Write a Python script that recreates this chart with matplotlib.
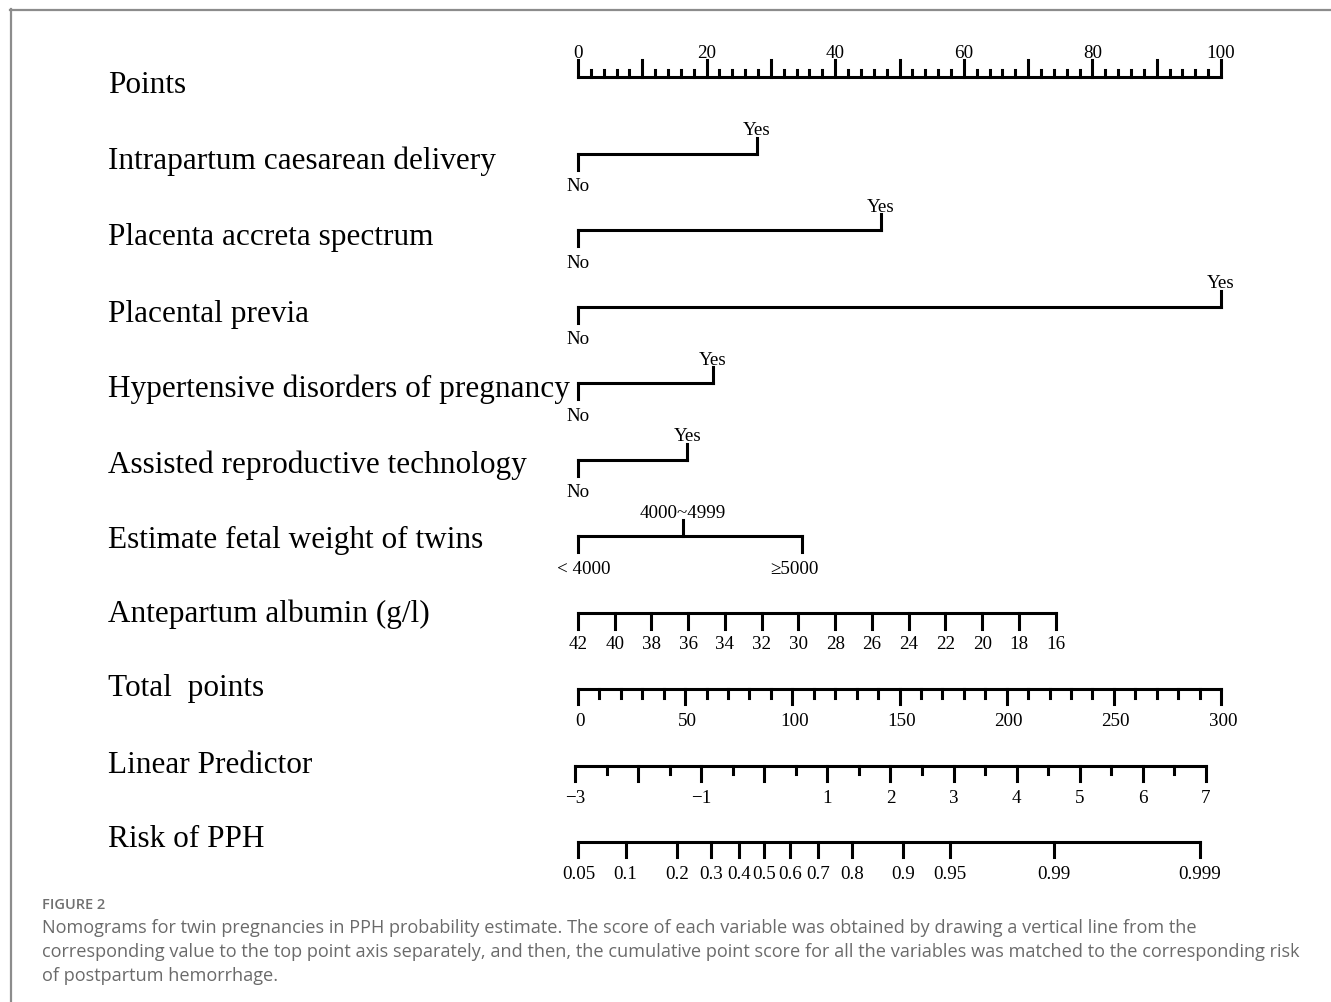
import numpy as np
import matplotlib
matplotlib.use("Agg")
import matplotlib.pyplot as plt
import matplotlib.transforms as mtransforms
from matplotlib.lines import Line2D

# ---------------- data ----------------
row_names = ["Points", "Intrapartum caesarean delivery", "Placenta accreta spectrum",
             "Placental previa", "Hypertensive disorders of pregnancy",
             "Assisted reproductive technology", "Estimate fetal weight of twins",
             "Antepartum albumin (g/l)", "Total  points", "Linear Predictor", "Risk of PPH"]

points_ticks = list(range(0, 101, 2))
points_labels = [0, 20, 40, 60, 80, 100]

ic_levels = ["No", "Yes"];               ic_points = [0, 27.8]
pas_levels = ["No", "Yes"];              pas_points = [0, 47.1]
pp_levels = ["No", "Yes"];               pp_points = [0, 100.0]
hdp_levels = ["No", "Yes"];              hdp_points = [0, 21.0]
art_levels = ["No", "Yes"];              art_points = [0, 17.0]
efw_levels = ["\uff1c4000", "4000~4999", "\u22655000"]; efw_points = [0, 16.3, 34.8]

albumin_values = [42, 40, 38, 36, 34, 32, 30, 28, 26, 24, 22, 20, 18, 16]
albumin_points_at_16 = 74.3

total_ticks = list(range(0, 301, 10))
total_labels = [0, 50, 100, 150, 200, 250, 300]

lp_ticks = [x / 2 for x in range(-6, 15)]
lp_labels = [-3, -1, 1, 2, 3, 4, 5, 6, 7]
lp_at_zero_total = -2.952     # linear predictor at total points = 0
total_per_lp = 29.44

risk_ticks = [0.05, 0.1, 0.2, 0.3, 0.4, 0.5, 0.6, 0.7, 0.8, 0.9, 0.95, 0.99, 0.999]

caption_title = "FIGURE 2"
caption_lines = [
    "Nomograms for twin pregnancies in PPH probability estimate. The score of each variable was obtained by drawing a vertical line from the",
    "corresponding value to the top point axis separately, and then, the cumulative point score for all the variables was matched to the corresponding risk",
    "of postpartum hemorrhage.",
]

# ---------------- scales ----------------
def alb_to_pts(v):
    return (42 - np.asarray(v, float)) * albumin_points_at_16 / 26.0

def total_to_pts(t):
    return np.asarray(t, float) / 3.0

def lp_to_pts(lp):
    return total_to_pts((np.asarray(lp, float) - lp_at_zero_total) * total_per_lp)

def risk_to_pts(p):
    p = np.asarray(p, float)
    return lp_to_pts(np.log(p / (1 - p)))

# ---------------- figure ----------------
W, H = 1331, 1003
fig = plt.figure(figsize=(W / 100, H / 100), dpi=100)
fig.patch.set_facecolor("white")

x0_px, x1_px = 578, 1221
row0_px, row_step = 78, 76.5
top_px = row0_px - 0.5 * row_step
bot_px = row0_px + 10.5 * row_step
ax = fig.add_axes([x0_px / W, 1 - bot_px / H, (x1_px - x0_px) / W, (bot_px - top_px) / H])
ax.set_xlim(0, 100)
ax.set_ylim(10.5, -0.5)
ax.axis("off")

PX = 1.0 / row_step                 # one pixel in row units
PXX = 100.0 / (x1_px - x0_px)       # one pixel in points units
LW = 2.2
serif = ["Liberation Serif", "DejaVu Serif"]
TFS = 13.7

def hline(y, xa, xb):
    ax.plot([xa, xb], [y, y], color="black", lw=LW, solid_capstyle="projecting", clip_on=False)

def tick(y, x, length_px, up):
    d = -length_px * PX if up else length_px * PX
    ax.plot([x, x], [y, y + d], color="black", lw=LW, solid_capstyle="projecting", clip_on=False)

def label(x, y, s, up, gap_px, dx_px=0.0):
    if up:
        ax.text(x + dx_px * PXX, y - gap_px * PX, s, ha="center", va="bottom",
                fontsize=TFS, family=serif)
    else:
        ax.text(x + dx_px * PXX, y + gap_px * PX, s, ha="center", va="top",
                fontsize=TFS, family=serif)

# row names
name_tr = mtransforms.blended_transform_factory(fig.transFigure, ax.transData)
name_offsets_px = [8, 7, 7, 7, 5, 5, 3, 1, -1, -1, -3]
for i, (nm, off) in enumerate(zip(row_names, name_offsets_px)):
    ax.text(108 / W, i + off * PX, nm, transform=name_tr,
            ha="left", va="center", fontsize=22.5, family=serif, color="black")

# Points axis
y = 0
hline(y, 0, 100)
for t in points_ticks:
    tick(y, t, 17 if t % 10 == 0 else 7, up=True)
for t in points_labels:
    label(t, y, str(t), True, 16)

# categorical rows
cats = [(ic_levels, ic_points), (pas_levels, pas_points), (pp_levels, pp_points),
        (hdp_levels, hdp_points), (art_levels, art_points), (efw_levels, efw_points)]
for r, (levels, pts) in enumerate(cats, start=1):
    hline(r, min(pts), max(pts))
    for k, (lv, p) in enumerate(zip(levels, pts)):
        up = (k % 2 == 1)
        tick(r, p, 16, up)
        shown = lv.replace("\uff1c", "< ")
        dx = 6 if lv.startswith("\uff1c") else (-7 if lv.startswith("\u2265") else 0)
        label(p, r, shown, up, 15 if up else 24, dx_px=dx)

# albumin
y = 7
ap = alb_to_pts(albumin_values)
hline(y, ap.min(), ap.max())
for v, p in zip(albumin_values, ap):
    tick(y, p, 16, False)
    label(p, y, str(v), False, 23)

# total points
y = 8
hline(y, total_to_pts(0), total_to_pts(300))
for t in total_ticks:
    tick(y, total_to_pts(t), 15 if t % 50 == 0 else 9, False)
for t in total_labels:
    label(total_to_pts(t), y, str(t), False, 23, dx_px=2)

# linear predictor
y = 9
hline(y, lp_to_pts(lp_ticks[0]), lp_to_pts(lp_ticks[-1]))
for t in lp_ticks:
    tick(y, lp_to_pts(t), 15 if float(t).is_integer() else 8, False)
for t in lp_labels:
    label(lp_to_pts(t), y, str(t).replace("-", "\u2212"), False, 24)

# risk
y = 10
rp = risk_to_pts(risk_ticks)
hline(y, rp.min(), rp.max())
for v, p in zip(risk_ticks, rp):
    tick(y, p, 15, False)
    label(p, y, f"{v:g}", False, 23)

# frame lines
fig.add_artist(Line2D([10 / W, 1.0], [1 - 10.5 / H, 1 - 10.5 / H], transform=fig.transFigure,
                      color="#8c8c8c", lw=1.6))
fig.add_artist(Line2D([10.5 / W, 10.5 / W], [0.0, 1 - 10 / H], transform=fig.transFigure,
                      color="#8c8c8c", lw=1.6))

# caption
cap_font = ["Open Sans", "DejaVu Sans"]
fig.text(42 / W, 1 - 905 / H, caption_title, ha="left", va="center", fontsize=10.5,
         family=cap_font, color="#707070", fontweight="semibold")
for j, line in enumerate(caption_lines):
    fig.text(42 / W, 1 - (928 + 24 * j) / H, line, ha="left", va="center", fontsize=13.05,
             family=cap_font, color="#6a6a6a")

fig.savefig("out.png", dpi=100, facecolor="white")
